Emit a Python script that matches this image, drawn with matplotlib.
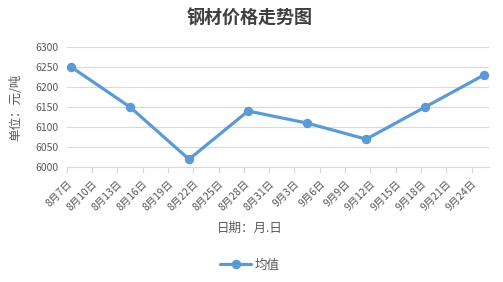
import numpy as np
import pandas as pd
import matplotlib
matplotlib.use('Agg')
import matplotlib.pyplot as plt

plt.rcParams['font.family'] = ['Noto Sans CJK SC', 'DejaVu Sans']

# 数据
dates = ['2018-08-07', '2018-08-14', '2018-08-21', '2018-08-28',
         '2018-09-04', '2018-09-11', '2018-09-18', '2018-09-25']
prices = [6250, 6150, 6020, 6140, 6110, 6070, 6150, 6230]
tick_dates = pd.date_range('2018-08-07', '2018-09-24', freq='3D')
tick_labels = [f'{d.month}月{d.day}日' for d in tick_dates]

txt = '#595959'
grid = '#D9D9D9'
blue = '#5B9BD5'

fig = plt.figure(figsize=(5.03, 2.82), dpi=100)
ax = fig.add_axes([0.1326, 0.4067, 0.9712 - 0.1326, 0.8344 - 0.4067])

x = pd.to_datetime(dates) + pd.Timedelta(hours=12)  # 点在日期格中间
ax.plot(x, prices, color=blue, lw=2.3, marker='o', ms=5.8, label='均值',
        solid_capstyle='round', zorder=3)

ax.set_xlim(pd.Timestamp('2018-08-07'), pd.Timestamp('2018-09-26'))
ax.set_ylim(6000, 6300)
ax.set_yticks(np.arange(6000, 6301, 50))
ax.set_xticks(tick_dates)
ax.set_xticklabels(tick_labels, rotation=45, ha='right', va='top',
                   rotation_mode='anchor', fontsize=7.5, color=txt)
ax.tick_params(axis='x', length=4, color=grid, width=0.8, pad=4)
ax.tick_params(axis='y', length=0, labelsize=7.5, labelcolor=txt, pad=6)

ax.grid(axis='y', color=grid, lw=0.8)
ax.set_axisbelow(True)
for s in ['left', 'right', 'top']:
    ax.spines[s].set_visible(False)
ax.spines['bottom'].set_color(grid)
ax.spines['bottom'].set_linewidth(0.8)

fig.text(0.497, 0.935, '钢材价格走势图', ha='center', va='center',
         fontsize=13, fontweight='bold', color='#404040')
fig.text(0.032, 0.62, '单位：元/吨', rotation=90, ha='center', va='center',
         fontsize=9, color=txt)
fig.text(0.497, 0.19, '日期：月.日', ha='center', va='center',
         fontsize=9, color=txt)

leg = fig.legend(loc='center', bbox_to_anchor=(0.497, 0.06), frameon=False,
                 fontsize=9, handlelength=2.5, handletextpad=0.3)
for t in leg.get_texts():
    t.set_color(txt)

fig.savefig('out.png', dpi=100)
